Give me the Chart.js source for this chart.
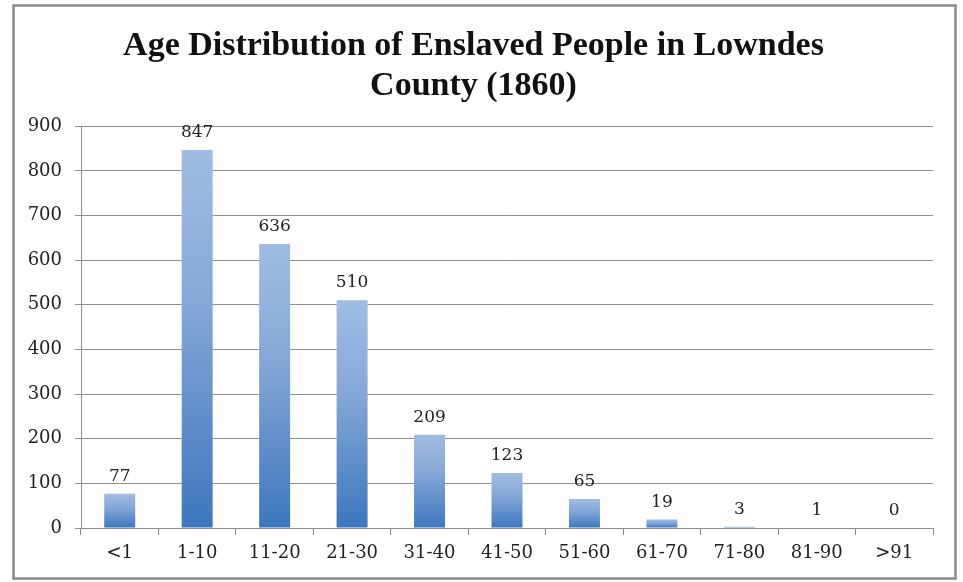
<!DOCTYPE html>
<html>
<head>
<meta charset="utf-8">
<script src="https://cdn.jsdelivr.net/npm/chart.js@4"></script>
<style>
  html, body { margin: 0; padding: 0; background: #fff; }
  #wrap { width: 963px; height: 582px; position: relative; }
</style>
</head>
<body>
<div id="wrap"><canvas id="chart" width="963" height="582"></canvas></div>
<script>
// age groups and counts
const ageGroups = ["<1", "1-10", "11-20", "21-30", "31-40", "41-50", "51-60", "61-70", "71-80", "81-90", ">91"];
const counts = [77, 847, 636, 510, 209, 123, 65, 19, 3, 1, 0];
const yTicks = [0, 100, 200, 300, 400, 500, 600, 700, 800, 900];
const titleLines = ["Age Distribution of Enslaved People in Lowndes", "County (1860)"];

const gridGray = "#8f8f8f";
const tickFont = { family: "DejaVu Serif", size: 18 };

// each bar gets its own light-to-dark gradient
function barFill(context) {
    const chart = context.chart;
    const { ctx, chartArea, scales } = chart;
    if (!chartArea) return "#4f81bd";
    const v = counts[context.dataIndex];
    const top = scales.y.getPixelForValue(v);
    const bottom = scales.y.getPixelForValue(0);
    if (bottom - top < 1) return "#3d78bf";
    const g = ctx.createLinearGradient(0, top, 0, bottom);
    g.addColorStop(0, "#a0bce3");
    g.addColorStop(0.4, "#86a8d8");
    g.addColorStop(1, "#3c77be");
    return g;
}

// value labels above bars
const valueLabels = {
    id: "valueLabels",
    afterDatasetsDraw(chart) {
        const ctx = chart.ctx;
        const meta = chart.getDatasetMeta(0);
        ctx.save();
        ctx.font = "17px 'DejaVu Serif'";
        ctx.fillStyle = "#222";
        ctx.textAlign = "center";
        ctx.textBaseline = "alphabetic";
        meta.data.forEach((bar, i) => {
            ctx.fillText(String(counts[i]), bar.x, bar.y - 13);
        });
        ctx.restore();
    }
};

// grey frame round the whole chart
const frame = {
    id: "frame",
    afterDraw(chart) {
        const ctx = chart.ctx;
        ctx.save();
        ctx.strokeStyle = "#8a8a8a";
        ctx.lineWidth = 2.5;
        ctx.strokeRect(13.5, 5.5, 942, 573);
        ctx.restore();
    }
};

Chart.defaults.color = "#222";
const myChart = new Chart(document.getElementById("chart"), {
    type: "bar",
    data: {
        labels: ageGroups,
        datasets: [{
            data: counts,
            backgroundColor: barFill,
            borderWidth: 0,
            barPercentage: 0.4,
            categoryPercentage: 1
        }]
    },
    options: {
        responsive: false,
        animation: false,
        layout: { padding: { left: 14, right: 30, top: 0, bottom: 0 } },
        plugins: {
            legend: { display: false },
            tooltip: { enabled: false },
            title: {
                display: true,
                text: titleLines,
                color: "#111",
                font: { family: "Liberation Serif", size: 34, weight: "bold", lineHeight: 1.18 },
                padding: { top: 26, bottom: 20 }
            }
        },
        scales: {
            x: {
                grid: { drawOnChartArea: false, drawTicks: true, tickLength: 7, color: gridGray, offset: true },
                border: { color: gridGray, width: 1 },
                ticks: { font: tickFont, color: "#222", padding: 8, maxRotation: 0 },
                afterFit: (scale) => { scale.height = 54; }
            },
            y: {
                min: 0,
                max: 900,
                afterBuildTicks: (scale) => { scale.ticks = yTicks.map(v => ({ value: v })); },
                grid: { color: gridGray, tickLength: 6 },
                border: { color: gridGray, width: 1 },
                ticks: { font: tickFont, color: "#222", padding: 13 },
                afterFit: (scale) => { scale.width = 67; }
            }
        }
    },
    plugins: [valueLabels, frame]
});
</script>
</body>
</html>
